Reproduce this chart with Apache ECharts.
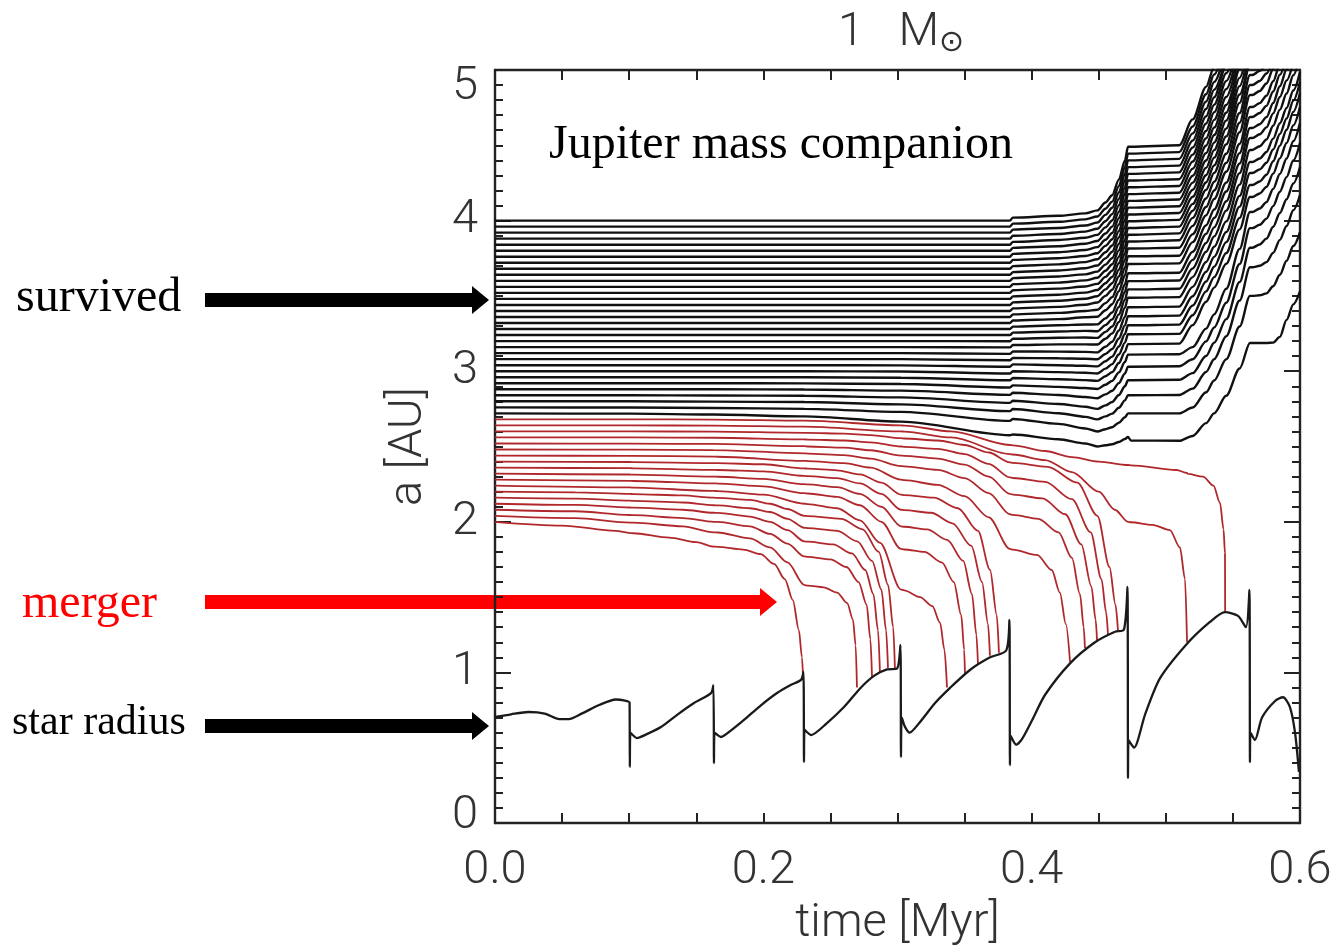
<!DOCTYPE html>
<html>
<head>
<meta charset="utf-8">
<script src="https://cdn.jsdelivr.net/npm/echarts@6/dist/echarts.min.js"></script>
<style>
html,body{margin:0;padding:0;background:#fff;}
#chart{width:1337px;height:947px;}
</style>
</head>
<body>
<div id="chart"></div>
<script>
// Stellar radius (AU) against time (Myr); each thermal pulse is a sharp spike.
const starRadius = [
  [0,0.704],[0.012,0.722],[0.025,0.737],[0.037,0.727],[0.048,0.69],[0.055,0.69],[0.065,0.728],[0.078,0.785],[0.09,0.82],[0.097,0.812],[0.1003,0.80],
  [0.1005,0.372],[0.1009,0.60],[0.1058,0.564],[0.112,0.585],[0.1237,0.637],[0.136,0.72],[0.1483,0.797],[0.161,0.863],
  [0.1628,0.916],[0.1632,0.398],[0.1636,0.60],[0.1684,0.571],[0.176,0.615],[0.1856,0.684],[0.198,0.78],[0.2102,0.863],[0.22,0.915],[0.2281,0.95],
  [0.2299,1.003],[0.2303,0.405],[0.2307,0.62],[0.2355,0.584],[0.247,0.66],[0.2601,0.77],[0.2728,0.90],[0.283,0.98],[0.2922,1.02],[0.2996,1.025],
  [0.3022,1.182],[0.3026,0.438],[0.3032,0.70],[0.3055,0.64],[0.309,0.60],[0.3168,0.671],[0.328,0.797],[0.339,0.896],[0.354,1.016],[0.369,1.10],[0.381,1.145],
  [0.3834,1.348],[0.3838,0.385],[0.3842,0.58],[0.3885,0.52],[0.393,0.56],[0.4002,0.68],[0.4099,0.85],[0.4286,1.06],[0.4472,1.20],[0.4621,1.27],[0.4688,1.285],
  [0.4714,1.567],[0.4718,0.299],[0.4722,0.55],[0.4763,0.50],[0.4845,0.72],[0.4956,0.96],[0.5158,1.19],[0.5329,1.335],[0.5441,1.40],[0.5538,1.375],[0.5597,1.30],
  [0.5623,1.547],[0.5627,0.405],[0.5631,0.60],[0.5664,0.551],[0.5717,0.70],[0.5814,0.81],[0.5873,0.835],[0.5925,0.77],[0.5963,0.60],[0.5992,0.34]
];

// Sample times shared by the surviving orbits
const survivorTimes = [0,0.1007,0.163,0.2306,0.3026,0.3838,0.386,0.42,0.44,0.449,0.455,0.46,0.465,0.4695,0.4718,0.474,0.51,0.52,0.53,0.536,0.545,0.555,0.5627,0.5645,0.57,0.575,0.58,0.585,0.59,0.595,0.6];

// Semi-major axis (AU) of each surviving companion, innermost first
const survivors = [
  [2.72,2.718,2.712,2.70,2.665,2.575,2.58,2.548,2.52,2.50,2.508,2.515,2.53,2.55,2.563,2.54,2.538,2.570,2.655,2.72,2.837,3.018,3.187,3.187,3.187,3.187,3.19,3.228,3.341,3.444,3.53],
  [2.76,2.759,2.756,2.75,2.73,2.67,2.683,2.65,2.62,2.60,2.615,2.628,2.658,2.694,2.72,2.72,2.72,2.759,2.86,2.938,3.079,3.297,3.50,3.50,3.504,3.517,3.564,3.64,3.733,3.831,3.924],
  [2.80,2.80,2.798,2.795,2.78,2.735,2.749,2.721,2.697,2.68,2.70,2.718,2.757,2.806,2.84,2.84,2.842,2.884,2.995,3.079,3.232,3.469,3.69,3.69,3.70,3.724,3.786,3.872,3.964,4.069,4.17],
  [2.84,2.84,2.839,2.837,2.826,2.79,2.804,2.782,2.764,2.75,2.773,2.795,2.842,2.90,2.94,2.94,2.943,2.987,3.101,3.189,3.346,3.592,3.82,3.82,3.841,3.88,3.959,4.05,4.142,4.246,4.356],
  [2.88,2.88,2.88,2.878,2.871,2.843,2.857,2.842,2.829,2.82,2.846,2.87,2.921,2.985,3.03,3.03,3.033,3.079,3.198,3.29,3.455,3.712,3.95,3.95,3.972,4.013,4.096,4.192,4.289,4.399,4.515],
  [2.92,2.92,2.92,2.919,2.915,2.892,2.906,2.896,2.888,2.882,2.91,2.936,2.992,3.061,3.11,3.11,3.113,3.16,3.283,3.377,3.547,3.812,4.057,4.057,4.08,4.123,4.21,4.31,4.412,4.527,4.648],
  [2.96,2.96,2.96,2.96,2.957,2.94,2.955,2.947,2.941,2.936,2.966,2.994,3.054,3.128,3.18,3.18,3.183,3.306,3.461,3.555,3.713,3.942,4.157,4.157,4.18,4.224,4.312,4.413,4.515,4.632,4.754],
  [3.0,3.0,3.0,3.0,2.998,2.985,3.0,2.994,2.99,2.985,3.017,3.047,3.111,3.19,3.245,3.245,3.248,3.372,3.53,3.625,3.785,4.018,4.236,4.236,4.26,4.304,4.394,4.498,4.603,4.722,4.847],
  [3.04,3.04,3.04,3.04,3.039,3.03,3.045,3.04,3.036,3.032,3.066,3.097,3.164,3.247,3.305,3.305,3.309,3.436,3.596,3.694,3.857,4.093,4.316,4.316,4.34,4.384,4.472,4.575,4.678,4.796,4.92],
  [3.08,3.08,3.08,3.08,3.08,3.073,3.088,3.086,3.083,3.079,3.114,3.147,3.217,3.304,3.365,3.365,3.369,3.498,3.66,3.759,3.924,4.164,4.389,4.389,4.412,4.456,4.544,4.646,4.748,4.864,4.987],
  [3.12,3.12,3.12,3.12,3.12,3.115,3.131,3.13,3.128,3.125,3.162,3.196,3.27,3.361,3.425,3.425,3.429,3.56,3.725,3.826,3.995,4.239,4.469,4.469,4.494,4.539,4.63,4.737,4.844,4.965,5.095],
  [3.16,3.16,3.16,3.16,3.16,3.158,3.174,3.178,3.178,3.177,3.215,3.251,3.327,3.422,3.488,3.488,3.492,3.625,3.793,3.895,4.066,4.315,4.548,4.548,4.573,4.619,4.712,4.821,4.93,5.053],
  [3.2,3.2,3.2,3.2,3.2,3.199,3.215,3.222,3.224,3.221,3.261,3.297,3.377,3.474,3.543,3.543,3.547,3.682,3.851,3.955,4.128,4.379,4.615,4.615,4.64,4.687,4.781,4.892,5.003,5.127],
  [3.24,3.24,3.24,3.24,3.24,3.24,3.256,3.264,3.268,3.265,3.306,3.344,3.426,3.527,3.598,3.598,3.602,3.739,3.912,4.017,4.193,4.448,4.688,4.688,4.714,4.762,4.857,4.969,5.082],
  [3.28,3.28,3.28,3.28,3.28,3.28,3.296,3.305,3.31,3.311,3.351,3.39,3.474,3.577,3.65,3.65,3.654,3.793,3.968,4.074,4.252,4.51,4.754,4.754,4.78,4.829,4.925,5.039,5.153],
  [3.32,3.32,3.32,3.32,3.32,3.32,3.337,3.346,3.358,3.362,3.405,3.445,3.531,3.637,3.712,3.712,3.716,3.857,4.035,4.143,4.324,4.587,4.834,4.834,4.861,4.91,5.008,5.124],
  [3.36,3.36,3.36,3.36,3.36,3.36,3.377,3.387,3.4,3.408,3.452,3.492,3.579,3.687,3.763,3.763,3.767,3.91,4.09,4.2,4.383,4.65,4.90,4.90,4.927,4.977,5.076],
  [3.40,3.40,3.40,3.40,3.40,3.40,3.417,3.427,3.441,3.456,3.5,3.541,3.629,3.739,3.815,3.815,3.82,3.965,4.147,4.258,4.444,4.714,4.967,4.967,4.994,5.045],
  [3.44,3.44,3.44,3.44,3.44,3.44,3.457,3.468,3.481,3.498,3.543,3.584,3.674,3.784,3.861,3.861,3.87,4.018,4.204,4.317,4.506,4.782,5.04,5.046,5.074],
  [3.48,3.48,3.48,3.48,3.48,3.48,3.497,3.508,3.522,3.539,3.584,3.626,3.717,3.828,3.906,3.906,3.915,4.065,4.253,4.367,4.559,4.837,5.098],
  [3.52,3.52,3.52,3.52,3.52,3.52,3.538,3.548,3.562,3.580,3.626,3.668,3.759,3.872,3.951,3.951,3.960,4.111,4.301,4.418,4.611,4.893,5.157],
  [3.56,3.56,3.56,3.56,3.56,3.56,3.578,3.588,3.603,3.621,3.667,3.710,3.802,3.916,3.996,3.996,4.005,4.158,4.350,4.468,4.664,4.948,5.215],
  [3.60,3.60,3.60,3.60,3.60,3.60,3.618,3.629,3.643,3.661,3.708,3.751,3.845,3.960,4.041,4.041,4.050,4.205,4.399,4.518,4.716,5.004,5.274],
  [3.64,3.64,3.64,3.64,3.64,3.64,3.658,3.669,3.684,3.702,3.749,3.793,3.888,4.004,4.086,4.086,4.095,4.252,4.448,4.568,4.768,5.060],
  [3.68,3.68,3.68,3.68,3.68,3.68,3.698,3.709,3.724,3.743,3.790,3.835,3.930,4.048,4.131,4.131,4.140,4.298,4.497,4.618,4.821,5.115],
  [3.72,3.72,3.72,3.72,3.72,3.72,3.739,3.750,3.765,3.783,3.832,3.876,3.973,4.092,4.176,4.176,4.185,4.345,4.546,4.669,4.873,5.171],
  [3.76,3.76,3.76,3.76,3.76,3.76,3.779,3.790,3.805,3.824,3.873,3.918,4.016,4.136,4.221,4.221,4.230,4.392,4.595,4.719,4.926,5.226],
  [3.80,3.80,3.80,3.80,3.80,3.80,3.819,3.830,3.846,3.865,3.914,3.960,4.058,4.180,4.266,4.266,4.275,4.438,4.644,4.769,4.978,5.282],
  [3.84,3.84,3.84,3.84,3.84,3.84,3.859,3.871,3.886,3.905,3.955,4.001,4.101,4.224,4.310,4.310,4.320,4.485,4.692,4.819,5.030,5.338],
  [3.88,3.88,3.88,3.88,3.88,3.88,3.899,3.911,3.927,3.946,3.996,4.043,4.144,4.268,4.355,4.355,4.365,4.532,4.741,4.869,5.083],
  [3.92,3.92,3.92,3.92,3.92,3.92,3.940,3.951,3.967,3.987,4.038,4.085,4.187,4.312,4.400,4.400,4.410,4.579,4.790,4.920,5.135],
  [3.96,3.96,3.96,3.96,3.96,3.96,3.980,3.992,4.008,4.027,4.079,4.126,4.229,4.356,4.445,4.445,4.455,4.625,4.839,4.970,5.188],
  [4.00,4.00,4.00,4.00,4.00,4.00,4.020,4.032,4.048,4.068,4.120,4.168,4.272,4.400,4.490,4.490,4.500,4.672,4.888,5.020,5.240]
];

// Orbits that end inside the star: [time, a] pairs, innermost first
const mergers = [
  [[0,2.0],[0.05,1.975],[0.09,1.94],[0.1007,1.925],[0.103,1.924],[0.13,1.895],[0.15,1.865],[0.163,1.835],[0.166,1.834],[0.185,1.815],[0.198,1.785],[0.208,1.72],[0.216,1.62],[0.222,1.48],[0.2265,1.28],[0.2288,1.1],[0.2296,0.97]],
  [[0,2.04],[0.06,2.025],[0.1007,1.995],[0.103,1.994],[0.14,1.97],[0.163,1.93],[0.166,1.929],[0.19,1.89],[0.205,1.83],[0.218,1.73],[0.2306,1.58],[0.233,1.576],[0.245,1.565],[0.255,1.53],[0.2625,1.46],[0.2668,1.35],[0.2688,1.18],[0.2698,0.90]],
  [[0,2.08],[0.06,2.07],[0.1007,2.045],[0.103,2.044],[0.14,2.025],[0.163,2.0],[0.166,1.999],[0.19,1.97],[0.205,1.92],[0.218,1.855],[0.2306,1.77],[0.233,1.767],[0.25,1.75],[0.262,1.70],[0.271,1.60],[0.277,1.45],[0.2798,1.22],[0.281,0.97]],
  [[0,2.12],[0.06,2.112],[0.1007,2.095],[0.103,2.094],[0.14,2.08],[0.163,2.06],[0.166,2.059],[0.19,2.035],[0.205,2.0],[0.218,1.945],[0.2306,1.87],[0.233,1.868],[0.252,1.85],[0.266,1.79],[0.276,1.68],[0.282,1.52],[0.2855,1.28],[0.2869,1.0]],
  [[0,2.16],[0.06,2.154],[0.1007,2.14],[0.103,2.139],[0.14,2.128],[0.163,2.11],[0.166,2.109],[0.19,2.09],[0.205,2.065],[0.218,2.02],[0.2306,1.96],[0.233,1.958],[0.255,1.94],[0.27,1.87],[0.281,1.74],[0.288,1.55],[0.2915,1.28],[0.2929,1.03]],
  [[0,2.20],[0.06,2.196],[0.1007,2.185],[0.103,2.184],[0.14,2.175],[0.163,2.16],[0.166,2.159],[0.19,2.145],[0.205,2.12],[0.218,2.085],[0.2306,2.04],[0.233,2.038],[0.258,2.02],[0.274,1.95],[0.286,1.80],[0.293,1.58],[0.2968,1.3],[0.2981,1.02]],
  [[0,2.24],[0.1007,2.228],[0.103,2.227],[0.163,2.205],[0.166,2.204],[0.2,2.18],[0.2306,2.12],[0.233,2.118],[0.255,2.09],[0.272,2.01],[0.287,1.86],[0.3026,1.55],[0.305,1.545],[0.3168,1.50],[0.326,1.44],[0.3317,1.33],[0.335,1.15],[0.3369,0.90]],
  [[0,2.28],[0.1007,2.272],[0.103,2.271],[0.163,2.255],[0.166,2.254],[0.2,2.235],[0.2306,2.19],[0.233,2.188],[0.255,2.165],[0.272,2.11],[0.288,2.0],[0.3026,1.82],[0.305,1.816],[0.32,1.80],[0.333,1.73],[0.342,1.60],[0.3475,1.38],[0.3497,1.15],[0.3503,0.99]],
  [[0,2.32],[0.1007,2.314],[0.103,2.313],[0.163,2.30],[0.166,2.299],[0.2,2.285],[0.2306,2.25],[0.233,2.248],[0.255,2.23],[0.272,2.185],[0.288,2.10],[0.3026,1.97],[0.305,1.967],[0.322,1.95],[0.337,1.88],[0.349,1.74],[0.3555,1.52],[0.3588,1.25],[0.360,1.05]],
  [[0,2.36],[0.1007,2.356],[0.103,2.355],[0.163,2.345],[0.166,2.344],[0.2,2.335],[0.2306,2.305],[0.233,2.303],[0.255,2.29],[0.272,2.255],[0.288,2.185],[0.3026,2.08],[0.305,2.077],[0.325,2.06],[0.341,1.99],[0.355,1.84],[0.363,1.60],[0.3675,1.32],[0.3689,1.11]],
  [[0,2.40],[0.1007,2.397],[0.103,2.396],[0.163,2.39],[0.166,2.389],[0.2,2.382],[0.2306,2.355],[0.233,2.353],[0.255,2.342],[0.272,2.315],[0.288,2.26],[0.3026,2.18],[0.305,2.177],[0.327,2.16],[0.345,2.09],[0.36,1.94],[0.369,1.68],[0.374,1.38],[0.3756,1.13]],
  [[0,2.44],[0.1007,2.438],[0.163,2.433],[0.166,2.432],[0.2306,2.405],[0.233,2.403],[0.26,2.39],[0.28,2.36],[0.3026,2.28],[0.305,2.277],[0.33,2.245],[0.35,2.17],[0.368,2.03],[0.3838,1.82],[0.386,1.815],[0.404,1.78],[0.415,1.68],[0.421,1.53],[0.4255,1.32],[0.4286,1.07]],
  [[0,2.48],[0.1007,2.479],[0.163,2.476],[0.2306,2.455],[0.233,2.453],[0.26,2.443],[0.28,2.42],[0.3026,2.37],[0.305,2.368],[0.33,2.345],[0.35,2.29],[0.368,2.19],[0.3838,2.05],[0.386,2.046],[0.405,2.02],[0.42,1.93],[0.43,1.76],[0.436,1.52],[0.4388,1.3],[0.4397,1.16]],
  [[0,2.52],[0.1007,2.519],[0.163,2.517],[0.2306,2.502],[0.233,2.5],[0.26,2.492],[0.28,2.475],[0.3026,2.44],[0.305,2.438],[0.33,2.42],[0.35,2.38],[0.368,2.3],[0.3838,2.185],[0.386,2.181],[0.408,2.155],[0.425,2.05],[0.437,1.85],[0.4445,1.57],[0.4477,1.35],[0.4487,1.215]],
  [[0,2.56],[0.1007,2.56],[0.163,2.558],[0.2306,2.547],[0.233,2.546],[0.26,2.54],[0.28,2.527],[0.3026,2.50],[0.305,2.498],[0.33,2.484],[0.35,2.45],[0.368,2.385],[0.3838,2.295],[0.386,2.291],[0.41,2.265],[0.43,2.15],[0.444,1.93],[0.452,1.62],[0.4555,1.4],[0.4569,1.25]],
  [[0,2.60],[0.1007,2.60],[0.163,2.599],[0.2306,2.591],[0.233,2.59],[0.26,2.586],[0.28,2.576],[0.3026,2.555],[0.305,2.553],[0.33,2.54],[0.35,2.51],[0.368,2.46],[0.3838,2.395],[0.386,2.391],[0.412,2.365],[0.434,2.26],[0.449,2.04],[0.458,1.70],[0.4625,1.45],[0.4643,1.28]],
  [[0,2.64],[0.1007,2.64],[0.163,2.639],[0.2306,2.632],[0.3026,2.60],[0.305,2.599],[0.34,2.56],[0.3838,2.45],[0.386,2.447],[0.41,2.41],[0.43,2.33],[0.45,2.20],[0.462,2.08],[0.4718,2.0],[0.474,1.997],[0.49,1.98],[0.503,1.945],[0.5105,1.83],[0.5143,1.62],[0.5158,1.2]],
  [[0,2.68],[0.1007,2.68],[0.163,2.679],[0.2306,2.672],[0.3026,2.64],[0.305,2.639],[0.34,2.60],[0.3838,2.51],[0.386,2.508],[0.41,2.47],[0.43,2.43],[0.45,2.40],[0.4718,2.377],[0.474,2.375],[0.508,2.344],[0.5158,2.324],[0.5165,2.318],[0.5277,2.30],[0.5355,2.24],[0.5404,2.125],[0.543,1.95],[0.5441,1.79],[0.5442,1.40]]
];

const xTicks = [0, 0.2, 0.4, 0.6];
const yTicks = [0, 1, 2, 3, 4, 5];

const chart = echarts.init(document.getElementById('chart'));
const tickFont = {fontFamily:'Roboto', fontSize:47, fontWeight:300, color:'#333'};
const axisLine = {onZero:false, lineStyle:{color:'#222', width:2.4}};
const tickStyle = {color:'#222', width:2};

function xAxisDef(pos, labels){
  return {
    type:'value', min:xTicks[0], max:xTicks[xTicks.length-1], interval:0.2, position:pos,
    axisLine: axisLine,
    axisTick:{show:true, inside:true, length:10, lineStyle:tickStyle},
    minorTick:{show:true, splitNumber:4, length:10, lineStyle:tickStyle},
    splitLine:{show:false},
    axisLabel: labels ? Object.assign({show:true, margin:25, formatter:v=>v.toFixed(1)}, tickFont) : {show:false},
    name: labels ? 'time [Myr]' : '', nameLocation:'middle', nameGap:78,
    nameTextStyle: tickFont
  };
}
function yLabel(v){
  if (v === yTicks[0]) return '{lo|' + v + '}';
  if (v === yTicks[yTicks.length-1]) return '{hi|' + v + '}';
  return '{mid|' + v + '}';
}
function yAxisDef(pos, labels){
  return {
    type:'value', min:yTicks[0], max:yTicks[yTicks.length-1], interval:1, position:pos,
    axisLine: axisLine,
    axisTick:{show:true, inside:true, length:16, lineStyle:tickStyle},
    minorTick:{show:true, splitNumber:10, length:8, lineStyle:tickStyle},
    splitLine:{show:false},
    axisLabel: labels ? Object.assign({show:true, margin:17, formatter:yLabel, verticalAlignMinLabel:'bottom', verticalAlignMaxLabel:'top',
      rich:{
        lo: Object.assign({lineHeight:13}, tickFont),
        hi: Object.assign({lineHeight:35}, tickFont),
        mid: Object.assign({}, tickFont)
      }}, tickFont) : {show:false},
    name: labels ? 'a [AU]' : '', nameLocation:'middle', nameGap:62, nameRotate:90,
    nameTextStyle: tickFont
  };
}

const lineBase = {type:'line', showSymbol:false, smooth:0.3, smoothMonotone:'x', silent:true, clip:true, animation:false};
const series = [];
mergers.forEach(pts => series.push(Object.assign({}, lineBase, {data:pts, lineStyle:{color:'#b0282c', width:1.8}})));
survivors.forEach(vals => series.push(Object.assign({}, lineBase, {
  data: vals.map((a, j) => [survivorTimes[j], a]),
  lineStyle:{color:'#111', width:2.4}
})));
series.push(Object.assign({}, lineBase, {data:starRadius, smooth:0.25, smoothMonotone:null, lineStyle:{color:'#1a1a1a', width:2.3}}));

function arrow(x0, x1, y, color){
  const h = 7, hh = 14, hl = 17;
  return {type:'polygon', silent:true, shape:{points:[[x0,y-h],[x1-hl,y-h],[x1-hl,y-hh],[x1,y],[x1-hl,y+hh],[x1-hl,y+h],[x0,y+h]]}, style:{fill:color}};
}
const serif = 'Liberation Serif, Times New Roman, serif';

chart.setOption({
  animation:false,
  grid:{left:495, top:70, width:805, height:753, outerBoundsMode:'none', containLabel:false},
  xAxis:[xAxisDef('bottom', true), xAxisDef('top', false)],
  yAxis:[yAxisDef('left', true), yAxisDef('right', false)],
  series: series,
  graphic:[
    {type:'text', left:549, top:121, style:{text:'Jupiter mass companion', font:'48px ' + serif, fill:'#000'}},
    {type:'text', left:16, top:274, style:{text:'survived', font:'48px ' + serif, fill:'#000'}},
    {type:'text', left:22, top:580, style:{text:'merger', font:'48px ' + serif, fill:'#f00'}},
    {type:'text', left:12, top:702, style:{text:'star radius', font:'42px ' + serif, fill:'#000'}},
    arrow(205, 489, 300, '#000'),
    arrow(205, 777, 602, '#f00'),
    arrow(205, 489, 726, '#000'),
    {type:'text', left:838, top:10, style:{text:'1   M{s|⊙}', font:'300 47px Roboto', fill:'#333',
      rich:{s:{fontSize:30, fontFamily:'DejaVu Sans', fill:'#333', padding:[20,0,0,0]}}}}
  ]
});
</script>
</body>
</html>
